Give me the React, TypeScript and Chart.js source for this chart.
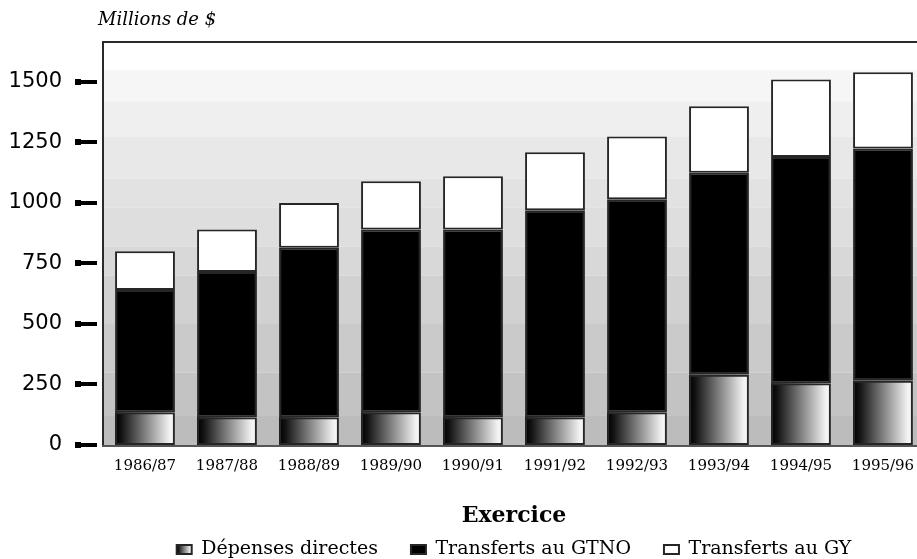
import { useEffect, useRef } from 'react';
import { Chart, registerables } from 'chart.js';

Chart.register(...registerables);

const categories = ['1986/87', '1987/88', '1988/89', '1989/90', '1990/91', '1991/92', '1992/93', '1993/94', '1994/95', '1995/96'];
const depensesDirectes = [135, 115, 115, 135, 115, 115, 135, 290, 255, 265];
const transfertsGTNO = [505, 600, 700, 755, 775, 855, 880, 835, 935, 960];
const transfertsGY = [160, 175, 185, 200, 220, 240, 260, 275, 320, 315];
const seriesLabels = ['Dépenses directes', 'Transferts au GTNO', 'Transferts au GY'];
const yTickStep = 250;
const yTickMax = 1500;
const yMax = 1665;
const yAxisTitle = 'Millions de $';
const xAxisTitle = 'Exercice';

const bands: [number, number, string][] = [
  [1550, 1700, '#ffffff'],
  [1420, 1550, '#f6f6f6'],
  [1275, 1420, '#efefef'],
  [1100, 1275, '#e8e8e8'],
  [980, 1100, '#e2e2e2'],
  [820, 980, '#dedede'],
  [700, 820, '#d8d8d8'],
  [500, 700, '#d1d1d1'],
  [300, 500, '#cacaca'],
  [120, 300, '#c3c3c3'],
  [0, 120, '#bcbcbc'],
];

function makeGradient(ctx: CanvasRenderingContext2D, left: number, right: number) {
  const g = ctx.createLinearGradient(left, 0, right, 0);
  g.addColorStop(0, '#000000');
  g.addColorStop(0.1, '#111111');
  g.addColorStop(0.9, '#efefef');
  g.addColorStop(1, '#fbfbfb');
  return g;
}

const decorPlugin = {
  id: 'decor',
  beforeDraw(chart: any) {
    const legend = chart.legend;
    const ca = chart.chartArea;
    if (legend && legend.legendItems && legend.legendHitBoxes && legend.legendHitBoxes[0]) {
      legend.left = ca.left;
      legend.right = ca.right;
      if (typeof legend.adjustHitBoxes === 'function') legend.adjustHitBoxes();
      const hb = legend.legendHitBoxes[0];
      legend.legendItems[0].fillStyle = makeGradient(chart.ctx, hb.left, hb.left + 15);
    }
  },
  beforeDatasetsDraw(chart: any) {
    const { ctx, chartArea } = chart;
    const y = chart.scales.y;
    ctx.save();
    bands.forEach(([lo, hi, color]) => {
      const top = Math.max(chartArea.top, y.getPixelForValue(hi));
      const bot = Math.min(chartArea.bottom, y.getPixelForValue(lo));
      if (bot > top) {
        ctx.fillStyle = color;
        ctx.fillRect(chartArea.left, top, chartArea.right - chartArea.left, bot - top);
      }
    });
    ctx.restore();
  },
  beforeDatasetDraw(chart: any, args: any) {
    if (args.index !== 0) return;
    const ctx = chart.ctx;
    ctx.save();
    args.meta.data.forEach((el: any) => {
      const { x, y, base, width } = el.getProps(['x', 'y', 'base', 'width'], true);
      const left = x - width / 2;
      ctx.fillStyle = makeGradient(ctx, left, left + width);
      ctx.fillRect(left, Math.min(y, base), width, Math.abs(base - y));
    });
    ctx.restore();
  },
  afterDatasetsDraw(chart: any) {
    const { ctx, chartArea } = chart;
    const y = chart.scales.y;
    ctx.save();
    ctx.fillStyle = '#2a2a2a';
    ctx.fillRect(chartArea.left - 2, chartArea.top - 1, chartArea.right - chartArea.left + 2, 2);
    ctx.fillRect(chartArea.left - 2, chartArea.top - 1, 2, chartArea.bottom - chartArea.top + 3);
    ctx.fillStyle = '#555555';
    ctx.fillRect(chartArea.left - 2, chartArea.bottom, chartArea.right - chartArea.left + 2, 2);
    ctx.fillStyle = '#000000';
    y.ticks.forEach((t: any) => {
      if (t.value > yTickMax) return;
      const p = Math.round(y.getPixelForValue(t.value));
      ctx.fillRect(chartArea.left - 29, p - 3, 6, 6);
      ctx.fillRect(chartArea.left - 24, p - 2, 17, 4);
    });
    ctx.fillStyle = '#000000';
    ctx.font = 'italic 18px "DejaVu Serif"';
    ctx.textAlign = 'left';
    ctx.textBaseline = 'middle';
    ctx.fillText(yAxisTitle, chartArea.left - 6, 20);
    ctx.restore();
  },
};

export default function App() {
  const ref = useRef<HTMLCanvasElement>(null);
  useEffect(() => {
    if (!ref.current) return;
    const chart = new Chart(ref.current, {
      type: 'bar',
      data: {
        labels: categories,
        datasets: [
          {
            label: seriesLabels[0],
            data: depensesDirectes,
            backgroundColor: 'rgba(0,0,0,0)',
            borderColor: '#262626',
            borderWidth: 2,
            borderSkipped: false,
          },
          {
            label: seriesLabels[1],
            data: transfertsGTNO,
            backgroundColor: '#000000',
            borderColor: '#262626',
            borderWidth: 2,
            borderSkipped: false,
          },
          {
            label: seriesLabels[2],
            data: transfertsGY,
            backgroundColor: '#ffffff',
            borderColor: '#262626',
            borderWidth: 2,
            borderSkipped: false,
          },
        ],
      },
      options: {
        responsive: false,
        animation: false,
        devicePixelRatio: 1,
        layout: { padding: { top: 42, right: 6, bottom: 0, left: 0 } },
        datasets: { bar: { barPercentage: 0.73, categoryPercentage: 1 } },
        plugins: {
          legend: {
            position: 'bottom',
            labels: {
              boxWidth: 15,
              boxHeight: 9,
              padding: 33,
              color: '#000',
              font: { family: '"DejaVu Serif"', size: 19 },
            },
          },
          tooltip: { enabled: false },
        },
        scales: {
          x: {
            stacked: true,
            grid: { display: false, drawTicks: false },
            border: { display: false },
            ticks: {
              color: '#000',
              padding: 12,
              maxRotation: 0,
              autoSkip: false,
              font: { family: '"DejaVu Serif"', size: 15 },
            },
            title: {
              display: true,
              text: xAxisTitle,
              color: '#000',
              padding: { top: 0, bottom: -22 },
              font: { family: '"DejaVu Serif"', size: 22, weight: 'bold' },
            },
            afterFit: (scale: any) => {
              scale.height = 62;
            },
          },
          y: {
            stacked: true,
            min: 0,
            max: yMax,
            grid: { display: false, drawTicks: false },
            border: { display: false },
            ticks: {
              stepSize: yTickStep,
              color: '#000',
              padding: 42,
              font: { family: '"DejaVu Sans"', size: 21 },
              callback: (v: any) => (Number(v) <= yTickMax ? String(v) : ''),
            },
            afterFit: (scale: any) => {
              scale.width = 104;
              scale.paddingTop = 0;
              scale.paddingBottom = 0;
            },
          },
        },
      },
      plugins: [decorPlugin],
    } as any);
    return () => chart.destroy();
  }, []);
  return (
    <div style={{ position: 'fixed', left: 0, top: 0, width: 917, height: 559, overflow: 'hidden', background: '#ffffff' }}>
      <canvas ref={ref} width={930} height={569} style={{ display: 'block', width: 930, height: 569 }} />
    </div>
  );
}
